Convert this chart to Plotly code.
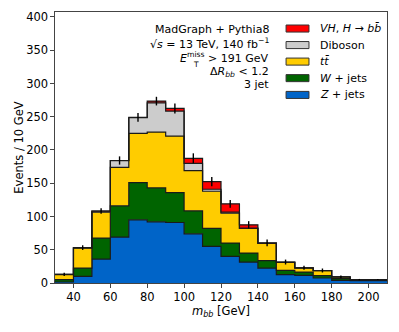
import numpy as np
import plotly.graph_objects as go

# bin edges in m_bb [GeV]
edges = list(range(30, 220, 10))

# events per 10 GeV, per process
z_jets = [1.5, 10, 36, 69, 95, 92, 91, 74, 55, 40, 31.5, 22.5, 12.5, 11.5, 7.5, 4, 3.5, 3.5]
w_jets = [3.5, 12.5, 31.5, 47, 56, 51, 45, 34.5, 27, 20, 13.5, 11, 6.5, 5, 3.5, 2.5, 1, 1]
ttbar = [7.5, 30, 39, 58, 74, 84, 85, 60.5, 56, 45, 37, 26, 12, 6, 7.5, 2.5, 0.5, 0.5]
diboson = [0.5, 0.5, 1.5, 10, 23.5, 44, 37.5, 11, 3, 1.5, 0.5, 0.3, 0.2, 0.2, 0.2, 0.1, 0.1, 0.1]
vh = [0, 0.2, 0.3, 0.2, 0.5, 2.5, 4, 7.5, 11.5, 12.5, 5, 0.5, 0.3, 0.2, 0.1, 0.1, 0, 0]
stat_err = [2.5, 3.5, 4.2, 6.2, 6.7, 6.5, 7.5, 7.5, 7, 5.7, 5.5, 5, 3.7, 3, 3, 2, 1, 0.5]

x_ticks = [40, 60, 80, 100, 120, 140, 160, 180, 200]
y_ticks = [0, 50, 100, 150, 200, 250, 300, 350, 400]

procs = [
    ("<i>Z</i> + jets", z_jets, "#0064c8"),
    ("<i>W</i> + jets", w_jets, "#006400"),
    ("<i>tt̄</i>", ttbar, "#ffcc00"),
    ("Diboson", diboson, "#cccccc"),
    ("<i>VH</i>, <i>H</i> → <i>bb̄</i>", vh, "#ff0000"),
]

fig = go.Figure()

cum = np.zeros(len(z_jets))
for i, (name, vals, col) in enumerate(procs):
    cum = cum + np.array(vals)
    fig.add_trace(go.Scatter(
        x=edges, y=list(cum) + [cum[-1]],
        mode="lines", line=dict(shape="hv", color="#1a1a1a", width=1.2),
        fill="tozeroy" if i == 0 else "tonexty", fillcolor=col,
        showlegend=False, hoverinfo="skip"))

centers = [e + 5 for e in edges[:-1]]
fig.add_trace(go.Scatter(
    x=centers, y=list(cum), mode="markers", marker=dict(size=1, color="black"),
    error_y=dict(type="data", array=stat_err, width=0, thickness=1.4, color="black"),
    showlegend=False, hoverinfo="skip"))

# legend drawn by hand (wide patches like the original)
ys = [0.939, 0.878, 0.817, 0.756, 0.694]
for (name, vals, col), yc in zip(procs[::-1], ys):
    fig.add_shape(type="rect", xref="paper", yref="paper",
                  x0=0.696, x1=0.765, y0=yc - 0.013, y1=yc + 0.013,
                  fillcolor=col, line=dict(color="#333333", width=1))
    fig.add_annotation(xref="paper", yref="paper", x=0.792, y=yc, text=name,
                       showarrow=False, xanchor="left", yanchor="middle",
                       font=dict(size=11, color="black"))

info = ["MadGraph + Pythia8",
        "√<i>s</i> = 13 TeV, 140 fb<sup>−1</sup>",
        "<i>E</i><sup>miss</sup> > 191 GeV",
        "Δ<i>R</i><sub><i>bb</i></sub> < 1.2",
        "3 jet"]
info_y = [0.934, 0.885, 0.833, 0.780, 0.731]
for t, yc in zip(info, info_y):
    fig.add_annotation(xref="paper", yref="paper", x=0.65, y=yc, text=t,
                       showarrow=False, xanchor="right", yanchor="middle",
                       font=dict(size=11, color="black"))
# subscript T under "miss"
fig.add_annotation(xref="paper", yref="paper", x=0.41, y=0.808, text="T",
                   showarrow=False, xanchor="left", yanchor="middle",
                   font=dict(size=7.5, color="black"))

# axis titles
fig.add_annotation(xref="paper", yref="paper", x=-0.111, y=0.5, text="Events / 10 GeV",
                   textangle=-90, showarrow=False, xanchor="center", yanchor="middle",
                   font=dict(size=11.5, color="black"))
fig.add_annotation(xref="paper", yref="paper", x=0.5, y=-0.104,
                   text="<i>m</i><sub><i>bb</i></sub> [GeV]",
                   showarrow=False, xanchor="center", yanchor="middle",
                   font=dict(size=11.5, color="black"))

axis_style = dict(showline=True, linecolor="#444444", linewidth=1.2, mirror=True,
                  ticks="outside", ticklen=3.5, tickcolor="#444444",
                  showgrid=False, zeroline=False, automargin=False,
                  tickfont=dict(size=11.5, color="black"))

fig.update_layout(
    width=399, height=332,
    margin=dict(l=55, r=12, t=12, b=49),
    paper_bgcolor="white", plot_bgcolor="white",
    font=dict(family="DejaVu Sans", color="black"),
    xaxis=dict(range=[30, 210], tickvals=x_ticks, **axis_style),
    yaxis=dict(range=[0, 407.5], tickvals=y_ticks, **axis_style),
)

fig.write_html("out.html", config={"displayModeBar": False},
               post_script="document.body.style.margin='0px';")
